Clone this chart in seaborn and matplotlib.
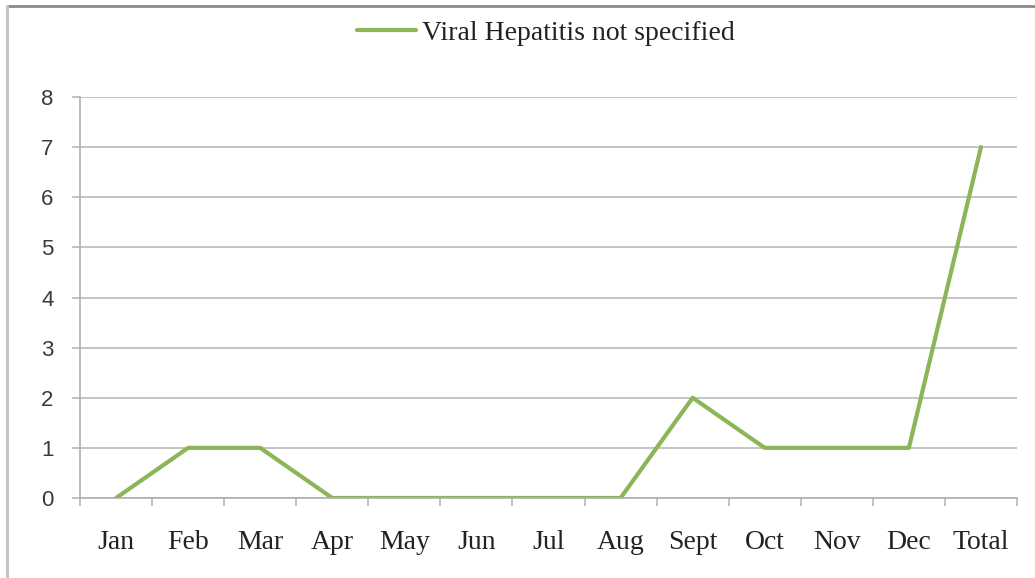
import matplotlib
matplotlib.use("Agg")
import matplotlib.pyplot as plt
from matplotlib.lines import Line2D
from matplotlib.ticker import FixedLocator
import pandas as pd
import seaborn as sns

months = ["Jan", "Feb", "Mar", "Apr", "May", "Jun", "Jul", "Aug",
          "Sept", "Oct", "Nov", "Dec", "Total"]
cases = [0, 1, 1, 0, 0, 0, 0, 0, 2, 1, 1, 1, 7]
series_name = "Viral Hepatitis not specified"
y_ticks = [0, 1, 2, 3, 4, 5, 6, 7, 8]

df = pd.DataFrame({"month": months, "cases": cases})
df["pos"] = range(len(months))

sns.set_theme(style="white")
plt.rcParams["font.family"] = ["Liberation Serif", "DejaVu Serif"]

fig = plt.figure(figsize=(10.35, 5.78), dpi=100)
fig.patch.set_facecolor("white")

# frame edges along the top and left of the chart area
W, H = 1035, 578
fig.lines.append(Line2D([7 / W, 1.0], [1 - 6 / H, 1 - 6 / H], transform=fig.transFigure,
                        color="#8a8a8a", linewidth=2.0))
fig.lines.append(Line2D([7 / W, 7 / W], [0, 1 - 6 / H], transform=fig.transFigure,
                        color="#c4c4c4", linewidth=2.2))

ax = fig.add_axes([80 / W, 80 / H, 937 / W, 401 / H])
green = "#8cb557"
sns.lineplot(data=df, x="pos", y="cases", ax=ax, color=green, linewidth=3.0,
             label=series_name, sort=False)

ax.set_xlim(-0.5, len(months) - 0.5)
ax.set_ylim(0, 8)
ax.set_yticks(y_ticks)
ax.set_yticklabels([str(v) for v in y_ticks], family=["Liberation Sans", "DejaVu Sans"],
                   fontsize=16, color="#3a3a3a")
ax.set_xticks(df["pos"])
ax.set_xticklabels(months, fontsize=20, color="#222222")
ax.xaxis.set_minor_locator(FixedLocator([i - 0.5 for i in range(len(months) + 1)]))

ax.grid(axis="y", color="#c4c4c4", linewidth=1.4)
ax.set_axisbelow(True)
for side in ["top", "right"]:
    ax.spines[side].set_visible(False)
for side in ["left", "bottom"]:
    ax.spines[side].set_color("#b0b0b0")
    ax.spines[side].set_linewidth(1.2)

ax.tick_params(axis="y", which="major", left=True, length=6, width=1.1,
               color="#b0b0b0", pad=13)
ax.tick_params(axis="x", which="major", bottom=False, length=0, pad=23)
ax.tick_params(axis="x", which="minor", bottom=True, length=6, width=1.1,
               color="#b0b0b0")
ax.set_xlabel("")
ax.set_ylabel("")

leg = ax.legend(loc="center", bbox_to_anchor=(546 / W, 1 - 33 / H),
                bbox_transform=fig.transFigure, frameon=False,
                prop={"family": "Liberation Serif", "size": 20},
                handlelength=2.1, handletextpad=0.22)
for t in leg.get_texts():
    t.set_color("#222222")

fig.savefig("out.png", dpi=100, facecolor="white")
